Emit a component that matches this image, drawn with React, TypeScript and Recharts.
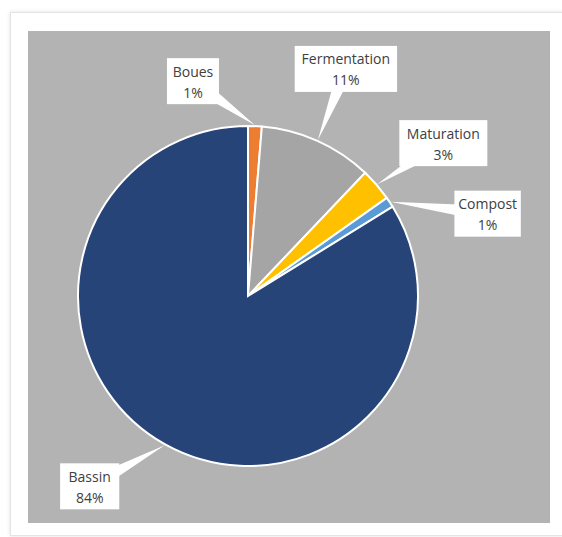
import { PieChart, Pie, Cell } from "recharts";

// Parts des volumes par étape de traitement (lecture du graphique)
const categories = ["Boues", "Fermentation", "Maturation", "Compost", "Bassin"];
const shares = [1.3, 10.8, 3.1, 1.0, 83.8];
const sliceColors = ["#ED7D31", "#A5A5A5", "#FFC000", "#5B9BD5", "#264478"];

const data = categories.map((name, i) => ({ name, value: shares[i] }));

// Décalage de chaque étiquette par rapport au bord de sa part (mise en page)
const LABEL_OFFSETS: [number, number][] = [
  [-62, -44],
  [28, -71],
  [66, -41],
  [97, 12],
  [-75, 41],
];

const PANEL_W = 522;
const PANEL_H = 492;
const RADIAN = Math.PI / 180;

// eslint-disable-next-line @typescript-eslint/no-explicit-any
function CalloutLabel(props: any) {
  const { cx, cy, midAngle, outerRadius, percent, index } = props;
  const name: string = props.name ?? props.payload?.name ?? "";
  const r = outerRadius + 1;
  const tipX = cx + r * Math.cos(-midAngle * RADIAN);
  const tipY = cy + r * Math.sin(-midAngle * RADIAN);
  const [dx, dy] = LABEL_OFFSETS[index];
  const bx = tipX + dx;
  const by = tipY + dy;
  const w = name.length * 7.2 + 16;
  const h = 46;
  const ang = Math.atan2(tipY - by, tipX - bx);
  const px = -Math.sin(ang) * 8;
  const py = Math.cos(ang) * 8;
  const pct = `${Math.round((percent ?? 0) * 100)}%`;
  const textStyle = { fontFamily: "'Open Sans', sans-serif", fontSize: 14, fill: "#404040" };

  return (
    <g>
      <polygon
        points={`${tipX},${tipY} ${bx + px},${by + py} ${bx - px},${by - py}`}
        fill="#ffffff"
      />
      <rect x={bx - w / 2} y={by - h / 2} width={w} height={h} fill="#ffffff" />
      <text x={bx} y={by - 10} textAnchor="middle" dominantBaseline="central" style={textStyle}>
        {name}
      </text>
      <text x={bx} y={by + 11} textAnchor="middle" dominantBaseline="central" style={textStyle}>
        {pct}
      </text>
    </g>
  );
}

export default function App() {
  return (
    <div
      style={{
        position: "absolute",
        left: 0,
        top: 0,
        width: 562,
        height: 537,
        background: "#ffffff",
        overflow: "hidden",
      }}
    >
      <div
        style={{
          position: "absolute",
          left: 10,
          top: 12,
          width: 552,
          height: 522,
          border: "1px solid #e4e4e4",
          boxShadow: "0 0 4px rgba(0,0,0,0.12)",
          background: "#ffffff",
        }}
      />
      <div
        style={{
          position: "absolute",
          left: 28,
          top: 31,
          width: PANEL_W,
          height: PANEL_H,
          background: "#b3b3b3",
        }}
      >
        <PieChart width={PANEL_W} height={PANEL_H} margin={{ top: 0, right: 0, bottom: 0, left: 0 }}>
          <Pie
            data={data}
            dataKey="value"
            nameKey="name"
            cx={220}
            cy={265}
            outerRadius={170}
            startAngle={90}
            endAngle={-270}
            stroke="#ffffff"
            strokeWidth={2}
            label={CalloutLabel}
            labelLine={false}
            isAnimationActive={false}
          >
            {data.map((entry, i) => (
              <Cell key={entry.name} fill={sliceColors[i]} />
            ))}
          </Pie>
        </PieChart>
      </div>
    </div>
  );
}
